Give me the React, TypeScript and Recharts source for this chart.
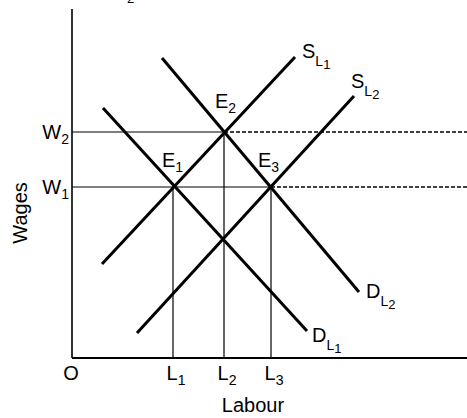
import React from "react";
import { LineChart, Line, XAxis, YAxis, ReferenceLine, ReferenceDot } from "recharts";

const FONT = '"Liberation Sans", Arial, Helvetica, sans-serif';

// curve end points, in (labour, wage) units
const supplyL1 = [{ x: 30, y: 94 }, { x: 223, y: 301 }];
const supplyL2 = [{ x: 65, y: 25 }, { x: 282, y: 262 }];
const demandL1 = [{ x: 31, y: 250 }, { x: 235, y: 27 }];
const demandL2 = [{ x: 90, y: 300 }, { x: 287, y: 66 }];

// axis ticks
const wageTicks = [171, 226];
const wageSubs = ["1", "2"];
const labourTicks = [0, 101, 152, 199];
const labourNames = ["O", "L", "L", "L"];
const labourSubs = ["", "1", "2", "3"];

// equilibria E1, E2, E3
const eqNames = ["1", "2", "3"];
const eqX = [101, 152, 199];
const eqY = [171, 226, 171];
const X_MAX = 395;
const Y_MAX = 349;

// text annotations: where each label starts (data units)
const eqLabelAt = [{ x: 90, y: 191 }, { x: 143, y: 250 }, { x: 186, y: 191 }];
const curveLabels = [
  { x: 230, y: 300, main: "S", sub: "1" },
  { x: 279, y: 270, main: "S", sub: "2" },
  { x: 240, y: 16, main: "D", sub: "1" },
  { x: 294, y: 60, main: "D", sub: "2" },
];

const txt = { fontFamily: FONT, fill: "#000" };

const WageTick = ({ x, y, index }: any) => (
  <text x={x - 3} y={y + 7} textAnchor="end" fontSize={20} {...txt}>
    W<tspan fontSize={14} dy={5}>{wageSubs[index]}</tspan>
  </text>
);

const LabourTick = ({ x, y, index }: any) => (
  <text x={index === 0 ? x - 1 : x + 3} y={y + 22} textAnchor="middle" fontSize={20} {...txt}>
    {labourNames[index]}
    {labourSubs[index] && <tspan fontSize={14} dy={5}>{labourSubs[index]}</tspan>}
  </text>
);

const curveShape = (c: (typeof curveLabels)[number]) => (p: any) => (
  <text x={p.cx} y={p.cy} fontSize={20} {...txt}>
    {c.main}
    <tspan fontSize={14} dy={8}>L</tspan>
    <tspan fontSize={13} dy={3}>{c.sub}</tspan>
  </text>
);

const eqShape = (i: number) => (p: any) => (
  <text x={p.cx} y={p.cy} fontSize={20} {...txt}>
    E<tspan fontSize={14} dy={5}>{eqNames[i]}</tspan>
  </text>
);

export default function App() {
  return (
    <div style={{ position: "absolute", left: 0, top: 0, background: "#fff" }}>
      <LineChart width={467} height={418} margin={{ top: 9, right: 0, bottom: 0, left: 0 }}>
        <XAxis
          type="number" dataKey="x" domain={[0, X_MAX]} ticks={labourTicks}
          tick={<LabourTick />} tickLine={false} tickSize={0} tickMargin={0}
          axisLine={{ stroke: "#000", strokeWidth: 2 }} height={60}
          label={{
            content: () => (
              <text x={253} y={412} textAnchor="middle" fontSize={20} {...txt}>Labour</text>
            ),
          }}
        />
        <YAxis
          type="number" domain={[0, Y_MAX]} ticks={wageTicks}
          tick={<WageTick />} tickLine={false} tickSize={0} tickMargin={0}
          axisLine={{ stroke: "#000", strokeWidth: 1.6 }} width={72}
          label={{
            content: () => (
              <text x={27} y={213} transform="rotate(-90 27 213)" textAnchor="middle" fontSize={20} {...txt}>Wages</text>
            ),
          }}
        />

        {/* guide lines from the equilibria */}
        {eqX.map((x, i) => (
          <ReferenceLine key={"v" + i} segment={[{ x, y: 0 }, { x, y: eqY[i] }]} stroke="#000" strokeWidth={1.2} />
        ))}
        <ReferenceLine segment={[{ x: 0, y: eqY[0] }, { x: eqX[2], y: eqY[2] }]} stroke="#000" strokeWidth={1.2} />
        <ReferenceLine segment={[{ x: 0, y: eqY[1] }, { x: eqX[1], y: eqY[1] }]} stroke="#000" strokeWidth={1.2} />
        <ReferenceLine segment={[{ x: eqX[2], y: eqY[2] }, { x: X_MAX, y: eqY[2] }]} stroke="#000" strokeWidth={1.6} strokeDasharray="4 2" />
        <ReferenceLine segment={[{ x: eqX[1], y: eqY[1] }, { x: X_MAX, y: eqY[1] }]} stroke="#000" strokeWidth={1.6} strokeDasharray="4 2" />

        <Line data={supplyL1} dataKey="y" type="linear" stroke="#000" strokeWidth={3} dot={false} isAnimationActive={false} />
        <Line data={supplyL2} dataKey="y" type="linear" stroke="#000" strokeWidth={3} dot={false} isAnimationActive={false} />
        <Line data={demandL1} dataKey="y" type="linear" stroke="#000" strokeWidth={3} dot={false} isAnimationActive={false} />
        <Line data={demandL2} dataKey="y" type="linear" stroke="#000" strokeWidth={3} dot={false} isAnimationActive={false} />

        {eqLabelAt.map((p, i) => (
          <ReferenceDot key={"e" + i} x={p.x} y={p.y} r={0} ifOverflow="visible" shape={eqShape(i)} />
        ))}
        {curveLabels.map((c, i) => (
          <ReferenceDot key={"c" + i} x={c.x} y={c.y} r={0} ifOverflow="visible" shape={curveShape(c)} />
        ))}
        {/* subscript left over at the top edge, clipped in the source too */}
        <ReferenceDot x={55} y={355} r={0} ifOverflow="visible"
          shape={(p: any) => <text x={p.cx} y={p.cy} fontSize={13} {...txt}>2</text>} />
      </LineChart>
    </div>
  );
}
